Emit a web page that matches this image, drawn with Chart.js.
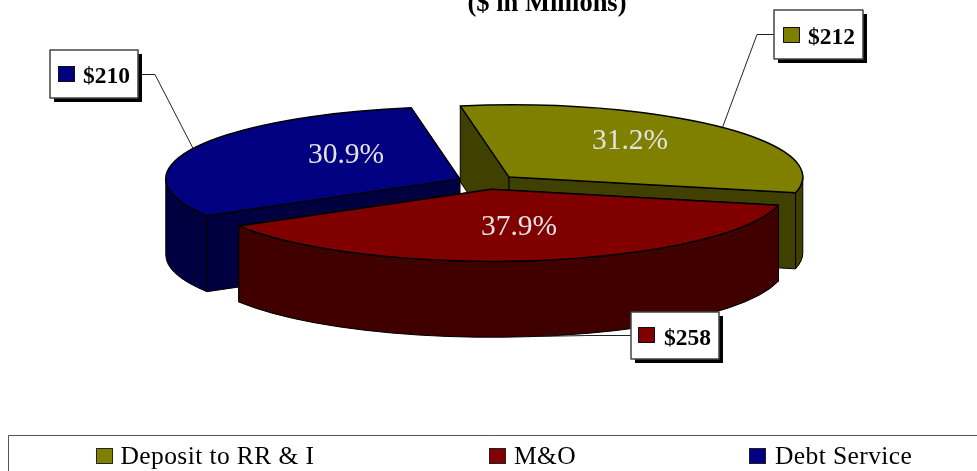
<!DOCTYPE html>
<html>
<head>
<meta charset="utf-8">
<title>Uses of funds</title>
<script src="https://cdn.jsdelivr.net/npm/chart.js@4/dist/chart.umd.min.js"></script>
<style>
    html, body { margin: 0; padding: 0; background: #fff; overflow: hidden; }
    canvas { display: block; }
</style>
</head>
<body>
<canvas id="chart" width="977" height="471"></canvas>
<script>
const categories = ['Deposit to RR & I', 'M&O', 'Debt Service'];
const amounts = [212, 258, 210];
const topColors = ['#808000', '#800000', '#000080'];
const wallColors = ['#404000', '#400000', '#000040'];

// pie shape: flattened disc, pulled-apart slices, back to front paint order
const squash = 0.245;
const depth = 76;
const explode = 30;
const pieRadius = 294;
const paintOrder = [0, 2, 1];

const serif = '"Liberation Serif", serif';
const total = amounts.reduce((a, b) => a + b, 0);

// percent captions: center x, baseline y
const percentAt = [[630, 149], [519, 235], [346, 163]];

// value callouts
const callouts = [
    {box: [774, 10, 89, 49], swatch: [783, 27], text: [808, 44], elbow: [[774, 34], [757, 34]]},
    {box: [631, 312, 88, 47], swatch: [638, 327], text: [664, 345], elbow: [[631, 335], [588, 335]]},
    {box: [50, 50, 88, 48], swatch: [58, 66], text: [83, 83], elbow: [[138, 74], [155, 74]]}
];

// bottom legend: swatch x, text x
const legendAt = [[96, 120.5], [489, 514], [749, 775]];

function sliceCenter(arc) {
    let mid = (arc.startAngle + arc.endAngle) / 2;
    return {x: arc.x + Math.cos(mid) * explode, y: arc.y + Math.sin(mid) * explode};
}

// runs fn with the context flattened around the pie center
function flattened(ctx, arc, fn) {
    ctx.save();
    ctx.translate(arc.x, arc.y);
    ctx.scale(1, squash);
    ctx.translate(-arc.x, -arc.y);
    fn();
    ctx.restore();
}

function strokeFill(ctx, fill, width) {
    ctx.fillStyle = fill;
    ctx.fill();
    ctx.strokeStyle = '#000';
    ctx.lineWidth = width;
    ctx.lineJoin = 'round';
    ctx.stroke();
}

function drawWalls(ctx, arc, color) {
    let c = sliceCenter(arc);
    let d = depth / squash;
    let r = arc.outerRadius;

    // straight walls along both cut edges
    [arc.endAngle, arc.startAngle].forEach(a => {
        flattened(ctx, arc, () => {
            ctx.beginPath();
            ctx.moveTo(c.x, c.y);
            ctx.lineTo(c.x + Math.cos(a) * r, c.y + Math.sin(a) * r);
            ctx.lineTo(c.x + Math.cos(a) * r, c.y + Math.sin(a) * r + d);
            ctx.lineTo(c.x, c.y + d);
            ctx.closePath();
        });
        strokeFill(ctx, color, 1);
    });

    // rim, only the part that faces the viewer
    [0, 2 * Math.PI].forEach(from => {
        let a0 = Math.max(arc.startAngle, from);
        let a1 = Math.min(arc.endAngle, from + Math.PI);
        if (a1 <= a0) return;
        flattened(ctx, arc, () => {
            ctx.beginPath();
            ctx.arc(c.x, c.y, r, a0, a1);
            ctx.arc(c.x, c.y + d, r, a1, a0, true);
            ctx.closePath();
        });
        strokeFill(ctx, color, 1);
    });
}

function drawTopOutline(ctx, arc) {
    let c = sliceCenter(arc);
    flattened(ctx, arc, () => {
        ctx.beginPath();
        ctx.moveTo(c.x, c.y);
        ctx.arc(c.x, c.y, arc.outerRadius, arc.startAngle, arc.endAngle);
        ctx.closePath();
    });
    ctx.strokeStyle = '#000';
    ctx.lineWidth = 1.5;
    ctx.lineJoin = 'round';
    ctx.stroke();
}

const pie3d = {
    id: 'pie3d',
    beforeDatasetsDraw(chart) {
        let ctx = chart.ctx;
        let arcs = chart.getDatasetMeta(0).data;
        paintOrder.forEach(i => {
            let arc = arcs[i];
            let c = sliceCenter(arc);
            drawWalls(ctx, arc, wallColors[i]);
            flattened(ctx, arc, () => {
                ctx.translate(c.x - arc.x, c.y - arc.y);
                arc.draw(ctx);
            });
            drawTopOutline(ctx, arc);
        });
        return false;
    }
};

function drawCallout(ctx, arc, i) {
    let item = callouts[i];
    let c = sliceCenter(arc);
    let mid = (arc.startAngle + arc.endAngle) / 2;
    let sy = Math.sin(mid);
    let endX = c.x + Math.cos(mid) * arc.outerRadius;
    let endY = arc.y + (c.y - arc.y + sy * arc.outerRadius) * squash + (sy > 0.5 ? depth : 0);

    ctx.strokeStyle = '#222';
    ctx.lineWidth = 1;
    ctx.beginPath();
    ctx.moveTo(item.elbow[0][0], item.elbow[0][1] + 0.5);
    ctx.lineTo(item.elbow[1][0], item.elbow[1][1] + 0.5);
    ctx.lineTo(endX, endY);
    ctx.stroke();

    let [x, y, w, h] = item.box;
    ctx.fillStyle = '#000';
    ctx.fillRect(x + 4, y + 4, w, h);
    ctx.fillStyle = '#fff';
    ctx.fillRect(x, y, w, h);
    ctx.strokeStyle = '#444';
    ctx.lineWidth = 1.5;
    ctx.strokeRect(x, y, w, h);

    ctx.fillStyle = topColors[i];
    ctx.fillRect(item.swatch[0], item.swatch[1], 17, 16);
    ctx.strokeStyle = '#111';
    ctx.lineWidth = 1;
    ctx.strokeRect(item.swatch[0] + 0.5, item.swatch[1] + 0.5, 16, 15);

    ctx.fillStyle = '#000';
    ctx.font = 'bold 23.5px ' + serif;
    ctx.textAlign = 'left';
    ctx.fillText('$' + amounts[i], item.text[0], item.text[1]);
}

const annotations = {
    id: 'annotations',
    afterDraw(chart) {
        let ctx = chart.ctx;
        let arcs = chart.getDatasetMeta(0).data;
        ctx.save();
        ctx.textBaseline = 'alphabetic';

        // percent captions on the slices
        ctx.font = '29.5px ' + serif;
        ctx.fillStyle = '#e2e2e2';
        ctx.textAlign = 'center';
        amounts.forEach((v, i) => {
            ctx.fillText((v / total * 100).toFixed(1) + '%', percentAt[i][0], percentAt[i][1]);
        });

        paintOrder.forEach(i => drawCallout(ctx, arcs[i], i));

        // heading runs off the top of the page
        ctx.fillStyle = '#000';
        ctx.font = 'bold 26.5px ' + serif;
        ctx.textAlign = 'center';
        ctx.fillText('($ in Millions)', 547, 11);

        // legend frame and entries
        ctx.strokeStyle = '#555';
        ctx.lineWidth = 1;
        ctx.strokeRect(8.5, 435.5, 1000, 60);
        ctx.font = '25.5px ' + serif;
        ctx.letterSpacing = '0.4px';
        ctx.textAlign = 'left';
        categories.forEach((name, i) => {
            ctx.fillStyle = topColors[i];
            ctx.fillRect(legendAt[i][0], 448, 17, 16);
            ctx.strokeStyle = '#222';
            ctx.strokeRect(legendAt[i][0] + 0.5, 448.5, 16, 15);
            ctx.fillStyle = '#000';
            ctx.fillText(name, legendAt[i][1], 464);
        });
        ctx.restore();
    }
};

window.onload = () => {
    new Chart(document.getElementById('chart').getContext('2d'), {
        type: 'pie',
        data: {
            labels: categories,
            datasets: [{
                data: amounts,
                backgroundColor: topColors,
                borderWidth: 0,
                radius: pieRadius
            }]
        },
        options: {
            responsive: false,
            animation: false,
            events: [],
            rotation: -9.5,
            layout: {padding: {right: 3, bottom: 107}},
            plugins: {legend: {display: false}, tooltip: {enabled: false}}
        },
        plugins: [pie3d, annotations]
    });
};
</script>
</body>
</html>
